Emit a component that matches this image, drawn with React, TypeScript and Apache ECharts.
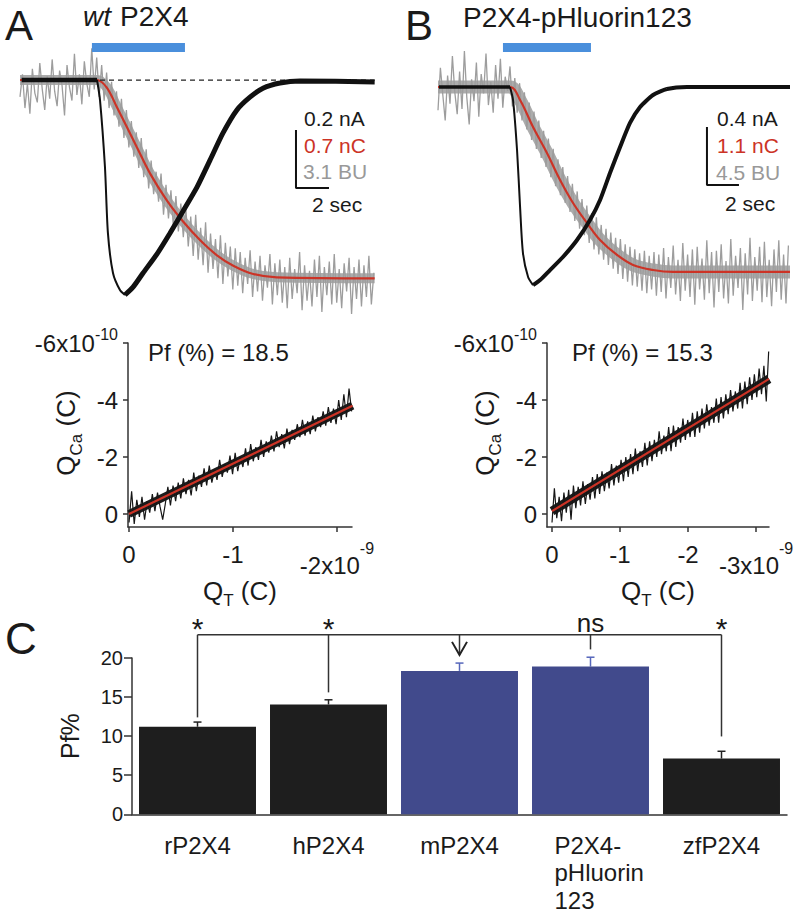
import React, { useEffect, useRef } from 'react';
import * as echarts from 'echarts';

const FONT = '"Liberation Sans", Arial, Helvetica, sans-serif';
const INK = '#1a1a1a';
const RED = '#cc3326';
const GREY = '#9d9d9d';
const BLUE_APP = '#4a8fdc';

// ---------- Panel A traces (time s, current nA, charge nC, fluorescence BU) ----------
const currentA: number[][] = [
  [0.1, 0], [4.67, 0], [4.85, -0.069], [5.15, -0.3], [5.33, -0.528], [5.64, -0.666], [6.06, -0.724],
  [6.36, -0.741], [6.85, -0.714], [7.45, -0.666], [8.3, -0.6], [9.09, -0.528], [9.88, -0.452],
  [10.73, -0.369], [11.52, -0.276], [12.3, -0.183], [13.15, -0.103], [13.94, -0.059], [14.73, -0.028],
  [15.76, -0.01], [16.97, -0.003], [21.5, -0.007],
];
const chargeA: number[][] = [
  [0, 0], [4.65, 0], [5.25, -0.088], [5.86, -0.322], [6.47, -0.564], [7.07, -0.805], [7.88, -1.127],
  [8.89, -1.449], [9.9, -1.711], [10.91, -1.931], [11.92, -2.112], [12.93, -2.241], [14.14, -2.341],
  [15.56, -2.381], [21.5, -2.393],
];
const fluoDt = 0.15;
const fluoA: number[] = [
  0.9, -0.3, 1.5, 0.2, 1.8, -0.6, 0.7, 1.2, -0.9, 0.5, 1.6, -0.2, 1.0, -1.1, 0.6, 1.4, -0.5, 0.3, 1.9, -0.8,
  0.4, 1.1, -1.4, 0.8, -0.3, 1.3, -1.0, 0.2, 0.9, -1.7, 0.5,
  -1.2, 0.9, -0.8, 1.1, -0.4, 1.5, 0.1, 1.9, 0.6, 2.5, 1.0, 3.1, 1.6, 3.6, 2.2, 4.1, 2.8,
  4.7, 3.1, 5.2, 3.7, 5.8, 4.3, 6.1, 4.9, 6.5, 5.0, 7.2, 5.6, 7.4, 5.9, 7.9, 6.2, 8.1, 6.6, 8.4,
  6.8, 8.9, 7.3, 9.4, 7.2, 9.6, 7.9, 9.9, 7.6, 10.3, 8.2, 10.1, 8.5, 10.6, 8.3, 10.9, 8.7, 10.5, 8.9, 11.2,
  9.0, 11.0, 9.2, 11.4, 9.5, 10.9, 9.1, 11.6, 9.7, 11.3, 9.4, 11.8, 9.9, 11.1, 9.3, 12.0, 9.8, 11.5, 9.6, 11.9,
  10.0, 12.2, 9.5, 11.7, 10.1, 11.4, 9.2, 12.3, 9.9, 11.8, 10.2, 12.1, 9.6, 11.6, 9.4, 12.4, 10.0, 11.5, 9.7, 12.0,
  9.3, 11.9, 10.1, 12.2, 9.8, 11.3, 9.5, 12.5, 10.0, 11.7, 9.6, 12.1, 9.9, 11.6, 9.4, 12.0, 10.3,
];
const appA = [4.36, 10.0];

// ---------- Panel B traces ----------
const currentB: number[][] = [
  [0.06, 0], [4.5, 0], [4.69, -0.09], [4.94, -0.434], [5.13, -0.828], [5.31, -1.145], [5.63, -1.31],
  [5.94, -1.366], [6.38, -1.331], [7.0, -1.262], [7.81, -1.172], [8.69, -1.055], [9.5, -0.917],
  [10.13, -0.779], [10.75, -0.593], [11.38, -0.414], [12.0, -0.248], [12.63, -0.138], [13.44, -0.055],
  [14.31, -0.014], [15.56, 0], [22, 0],
];
const chargeB: number[][] = [
  [0, 0], [4.5, 0], [5.13, -0.247], [5.94, -0.759], [6.81, -1.252], [7.63, -1.764], [8.44, -2.2],
  [9.31, -2.579], [10.13, -2.902], [11.19, -3.186], [12.19, -3.376], [13.44, -3.471], [14.69, -3.508],
  [22, -3.508],
];
const fluoB: number[] = [
  1.8, -1.5, 0.6, 2.6, -0.9, 1.3, -2.4, 0.4, 2.1, -1.2, 1.7, -2.8, 0.8, 2.9, -0.6, 1.1, -1.9, 2.3, -1.0, 0.5,
  -2.6, 1.4, -0.4, 2.0, -1.7, 0.9, -2.2, 1.6, -0.8, 0.3,
  -1.6, 1.5, -0.7, 2.0, -0.3, 2.6, 0.4, 3.3, 1.2, 4.1, 1.9, 4.8, 2.6, 5.5, 3.4, 6.2, 4.0, 7.0, 4.8, 7.7, 5.6,
  8.4, 6.2, 9.0, 6.9, 9.7, 7.5, 10.4, 8.1, 11.0, 8.7, 11.5, 9.2, 12.1, 9.8, 12.6, 10.1, 13.0, 10.7, 13.4, 11.0,
  13.8, 11.3, 14.1, 11.7,
  14.5, 11.8, 14.9, 12.2, 15.1, 12.4, 15.4, 12.6, 15.5, 12.9, 15.8, 12.7, 16.0, 13.1, 15.7, 12.8, 16.2, 13.0, 15.9, 12.5,
  16.4, 13.2, 15.6, 12.3, 16.1, 13.4, 16.6, 12.1, 15.8, 13.0, 16.3, 12.6, 16.9, 12.4, 15.7, 13.3, 16.5, 11.9, 16.0, 12.8,
  17.1, 12.7, 15.9, 12.2, 16.4, 13.5, 16.8, 11.8, 16.2, 13.1, 15.6, 12.5, 17.3, 12.9, 16.1, 11.7, 16.6, 13.2, 15.8, 12.4,
  16.7, 12.0, 16.3, 13.4, 17.0, 12.6, 15.9, 11.9, 16.5, 13.0, 16.8, 12.3,
];
const appB = [4.06, 9.56];

// scale bars: [time of vertical bar, top value (nA), amplitude nA, duration s]
const scaleA = [16.73, -0.172, 0.2, 2];
const scaleB = [16.81, -0.276, 0.4, 2];

// ---------- Q_Ca vs Q_T (x in 1e-9 C, y in 1e-10 C) ----------
const qtStepA = 0.0249;
const qcaA: number[] = [
  0.3, -0.8, 0.35, -0.5, 0.1, -0.6, 0.2, -0.45, -0.05, -0.7,
  -0.1, -0.75, -0.25, 0.2, -0.35, -0.95, -0.3, -1.0, -0.45, -1.1,
  -0.55, -1.25, -0.7, -1.2, -0.65, -1.45, -0.8, -1.35, -0.95, -1.6,
  -1.0, -1.7, -1.1, -1.55, -1.2, -1.9, -1.3, -1.75, -1.45, -2.05,
  -1.4, -2.15, -1.5, -2.0, -1.65, -2.3, -1.7, -2.45, -1.85, -2.35,
  -1.9, -2.6, -2.0, -2.55, -2.15, -2.75, -2.2, -2.9, -2.35, -2.8,
  -2.3, -3.0, -2.45, -2.95, -2.6, -3.15, -2.7, -3.3, -2.75, -3.25,
  -2.8, -3.45, -2.9, -3.4, -3.05, -3.6, -3.1, -3.75, -3.2, -3.7,
  -3.15, -4.0, -3.3, -4.2, -3.4, -4.4, -3.6,
];
const fitA = [[0, 0], [-2.15, -3.8]];
const qtStepB = 0.035;
const qcaB: number[] = [
  0.3, -0.9, 0.15, -0.6, 0.25, -0.75, -0.05, -0.85, 0.2, -1.0,
  -0.2, -0.95, -0.3, -1.15, -0.35, -1.05, -0.5, -1.3, -0.55, -1.4,
  -0.7, -1.5, -0.8, -1.45, -0.9, -1.75, -1.0, -1.7, -1.1, -1.9,
  -1.15, -2.0, -1.3, -2.1, -1.4, -2.3, -1.5, -2.2, -1.65, -2.5,
  -1.7, -2.55, -1.85, -2.6, -2.0, -2.9, -2.1, -2.75, -2.2, -3.05,
  -2.2, -3.1, -2.35, -3.05, -2.5, -3.35, -2.6, -3.3, -2.7, -3.55,
  -2.7, -3.6, -2.85, -3.7, -3.0, -3.85, -3.1, -3.75, -3.2, -4.05,
  -3.2, -4.1, -3.35, -4.2, -3.5, -4.35, -3.6, -4.3, -3.7, -4.6,
  -3.7, -4.65, -3.85, -4.8, -4.0, -4.9, -4.1, -5.1, -4.2, -5.2,
  -3.95, -5.7,
];
const fitB = [[0, -0.1], [-3.19, -4.74]];
const qtTicksA = [0, -1, -2];
const qtTicksB = [0, -1, -2, -3];
const qcaTicks = [0, -2, -4, -6];
const pfFitA = '18.5';
const pfFitB = '15.3';

// ---------- Panel C ----------
const pfCategories = ['rP2X4', 'hP2X4', 'mP2X4', 'P2X4-\npHluorin\n123', 'zfP2X4'];
const pfMean = [11.2, 14.05, 18.35, 18.9, 7.13];
const pfSem = [0.6, 0.6, 1.0, 1.2, 0.93];
const sigDrop = [12.4, 15.6, 20.4, 21.1, 9.96];
const sigLabels = ['*', '*', 'arrow', 'ns', '*'];
const bracketLevel = 22.97;
const barColors = ['#1e1e1e', '#1e1e1e', '#414a8c', '#414a8c', '#1e1e1e'];
const errColors = ['#222222', '#222222', '#5566bb', '#5566bb', '#222222'];

function txt(text: string, x: number, y: number, size: number, color = INK, style = 'normal', align = 'left') {
  return {
    type: 'text',
    silent: true,
    style: {
      text, x, y,
      font: `${style} ${size}px ${FONT}`,
      fill: color,
      textAlign: align, align,
      textVerticalAlign: 'middle', verticalAlign: 'middle',
    },
  };
}

// rotated axis title "Q_Ca (C)" drawn as rich text
function qcaTitle(x: number, y: number) {
  return {
    type: 'text', silent: true, x, y, rotation: Math.PI / 2,
    style: {
      text: '{q|Q}{s|Ca}{q| (C)}',
      x: 0, y: 0,
      textAlign: 'center', align: 'center', textVerticalAlign: 'middle', verticalAlign: 'middle',
      fill: INK,
      rich: {
        q: { fontSize: 26, lineHeight: 26, verticalAlign: 'top', fontFamily: FONT, fill: INK, color: INK },
        s: { fontSize: 17, lineHeight: 46, fontFamily: FONT, fill: INK, color: INK },
      },
    },
  };
}

const line = (data: any, xi: number, yi: number, color: string, width: number, extra: any = {}) => ({
  type: 'line', data, xAxisIndex: xi, yAxisIndex: yi, symbol: 'none', showSymbol: false, silent: true,
  lineStyle: { color, width, ...(extra.lineStyle || {}) }, smooth: extra.smooth ?? false,
  emphasis: { disabled: true },
});

const labelRich = {
  p: { fontSize: 24, lineHeight: 28, fontFamily: FONT, color: INK },
  b: { fontSize: 24, lineHeight: 50, fontFamily: FONT, color: INK },
  yb: { fontSize: 24, lineHeight: 34, fontFamily: FONT, color: INK },
  s: { fontSize: 16, lineHeight: 16, verticalAlign: 'top', fontFamily: FONT, color: INK },
};
const nameRich = {
  q: { fontSize: 26, lineHeight: 26, verticalAlign: 'top', fontFamily: FONT, color: INK },
  s: { fontSize: 17, lineHeight: 46, fontFamily: FONT, color: INK },
};
const axisLineStyle = { color: '#333', width: 1.5 };

function qtAxis(grid: number, min: number, max: number, ticks: number[]) {
  const last = ticks[ticks.length - 1];
  return {
    type: 'value', gridIndex: grid, min, max, inverse: true,
    axisLine: { show: true, onZero: false, lineStyle: axisLineStyle },
    axisTick: { show: true, length: 5, customValues: ticks, lineStyle: axisLineStyle },
    axisLabel: {
      customValues: ticks, margin: 13,
      formatter: (v: number) => (v === last ? `{b|${v}x10}{s|-9}` : `{p|${v}}`),
      rich: labelRich,
    },
    splitLine: { show: false },
    name: '{q|Q}{s|T}{q| (C)}', nameLocation: 'middle', nameGap: 43,
    nameTextStyle: { rich: nameRich },
  };
}
function qcaAxis(grid: number) {
  return {
    type: 'value', gridIndex: grid, min: -6, max: 0.456, inverse: true,
    axisLine: { show: true, onZero: false, lineStyle: axisLineStyle },
    axisTick: { show: true, length: 5, customValues: qcaTicks, lineStyle: axisLineStyle },
    axisLabel: {
      customValues: qcaTicks, margin: 10,
      formatter: (v: number) => (v === -6 ? '{yb|-6x10}{s|-10}' : `{p|${v}}`),
      rich: labelRich,
    },
    splitLine: { show: false },
  };
}

function traceSeries(xi: number, yC: number, yQ: number, yF: number, cur: number[][], chg: number[][], fl: number[],
  app: number[], sc: number[], appLevel: number, thick: number, dashed: boolean, core: number) {
  const s: any[] = [];
  // dense core of the noisy fluorescence trace (runs along the charge curve)
  s.push(line(chg, xi, yQ, '#acacac', core, { smooth: 0.35 }));
  s.push(line(fl.map((v, i) => [i * fluoDt, v]), xi, yF, GREY, 1.3));
  s.push(line(chg, xi, yQ, RED, 2.2, { smooth: 0.35 }));
  if (dashed) s.push(line([[cur[1][0] + 0.18, 0], [cur[cur.length - 1][0], 0]], xi, yC, '#222', 1.3, { lineStyle: { type: [5, 4] } }));
  s.push(line(cur.slice(0, 2), xi, yC, '#111', thick));
  s.push(line(cur.slice(1, 8), xi, yC, '#111', 2, { smooth: 0.25 }));
  s.push(line(cur.slice(7), xi, yC, '#111', thick + 0.5, { smooth: 0.2 }));
  s.push(line([[app[0], appLevel], [app[1], appLevel]], xi, yC, BLUE_APP, 9));
  s.push(line([[sc[0], sc[1]], [sc[0], sc[1] - sc[2]], [sc[0] + sc[3], sc[1] - sc[2]]], xi, yC, '#111', 2));
  return s;
}

export default function App() {
  const ref = useRef<HTMLDivElement>(null);
  useEffect(() => {
    document.body.style.margin = '0';
    const chart = echarts.init(ref.current as HTMLDivElement, null, { renderer: 'svg', width: 800, height: 912 });
    const hiddenX = (g: number, max: number) => ({ type: 'value', gridIndex: g, min: 0, max, show: false });
    const hiddenY = (g: number, min: number, max: number, inverse = false) => ({ type: 'value', gridIndex: g, min, max, inverse, show: false });

    const option: any = {
      animation: false,
      textStyle: { fontFamily: FONT },
      grid: [
        { left: 20, top: 40, width: 355, height: 275 },
        { left: 438, top: 40, width: 352, height: 275 },
        { left: 128, top: 343, width: 224, height: 184 },
        { left: 547, top: 343, width: 222, height: 184 },
        { left: 132, top: 658, width: 655, height: 157 },
      ],
      xAxis: [
        hiddenX(0, 21.52),
        hiddenX(1, 22),
        qtAxis(2, -2.145, 0.01, qtTicksA),
        qtAxis(3, -3.19, 0.0735, qtTicksB),
        {
          type: 'category', gridIndex: 4, data: pfCategories,
          axisLine: { show: true, lineStyle: axisLineStyle },
          axisTick: { show: false },
          axisLabel: {
            interval: 0, margin: 17,
            formatter: (v: string) => v.includes('\n')
              ? v.split('\n').map((s) => `{l|${s}}`).join('\n')
              : `{c|${v}}`,
            rich: {
              c: { fontSize: 24, lineHeight: 27.5, fontFamily: FONT, color: INK },
              l: { fontSize: 24, lineHeight: 27.5, fontFamily: FONT, color: INK, width: 90, align: 'left', padding: [0, 0, 0, 18] },
            },
          },
        },
      ],
      yAxis: [
        hiddenY(0, -0.81, 0.138),
        hiddenY(0, -2.836, 0.483),
        hiddenY(0, -2.138, 12.56, true),
        hiddenY(1, -1.572, 0.324),
        hiddenY(1, -4.324, 0.891),
        hiddenY(1, -3.65, 17.69, true),
        qcaAxis(2),
        qcaAxis(3),
        {
          type: 'value', gridIndex: 4, min: 0, max: 20, interval: 5,
          axisLine: { show: true, lineStyle: axisLineStyle },
          axisTick: { show: true, length: 8, lineStyle: axisLineStyle },
          axisLabel: { fontSize: 20, color: INK, margin: 9, fontFamily: FONT },
          splitLine: { show: false },
          name: 'Pf%', nameLocation: 'middle', nameRotate: 90, nameGap: 50,
          nameTextStyle: { fontSize: 25, lineHeight: 25, color: INK, fontFamily: FONT },
        },
      ],
      series: [
        ...traceSeries(0, 0, 1, 2, currentA, chargeA, fluoA, appA, scaleA, 0.112, 4.5, true, 10),
        ...traceSeries(1, 3, 4, 5, currentB, chargeB, fluoB, appB, scaleB, 0.272, 3.5, false, 13),
        line(fitA, 2, 6, '#1c1c1c', 8),
        line(qcaA.map((v, i) => [-i * qtStepA, v]), 2, 6, '#161616', 1.2),
        line(fitA, 2, 6, RED, 2.2),
        line(fitB, 3, 7, '#1c1c1c', 9),
        line(qcaB.map((v, i) => [-i * qtStepB, v]), 3, 7, '#161616', 1.2),
        line(fitB, 3, 7, RED, 2.2),
        {
          type: 'bar', xAxisIndex: 4, yAxisIndex: 8, barCategoryGap: '10.7%', silent: true,
          data: pfMean.map((v, i) => ({ value: v, itemStyle: { color: barColors[i] } })),
          emphasis: { disabled: true },
        },
        {
          type: 'custom', xAxisIndex: 4, yAxisIndex: 8, silent: true, clip: false,
          data: pfMean.map((v, i) => [i, v, pfSem[i]]),
          renderItem: (params: any, api: any) => {
            const i = params.dataIndex;
            const base = api.coord([api.value(0), api.value(1)]);
            const top = api.coord([api.value(0), api.value(1) + api.value(2)]);
            const st = { stroke: errColors[i], lineWidth: 1.5 };
            return {
              type: 'group',
              children: [
                { type: 'line', shape: { x1: base[0], y1: base[1], x2: top[0], y2: top[1] }, style: st },
                { type: 'line', shape: { x1: top[0] - 4, y1: top[1], x2: top[0] + 4, y2: top[1] }, style: st },
              ],
            };
          },
        },
        {
          type: 'custom', xAxisIndex: 4, yAxisIndex: 8, silent: true, clip: false,
          data: sigDrop.map((d, i) => [i, d]),
          renderItem: (params: any, api: any) => {
            const i = params.dataIndex;
            const tip = api.coord([api.value(0), api.value(1)]);
            const top = api.coord([api.value(0), bracketLevel]);
            const st = { stroke: '#333', lineWidth: 1.5 };
            const kids: any[] = [
              { type: 'line', shape: { x1: tip[0], y1: top[1], x2: tip[0], y2: tip[1] }, style: st },
            ];
            if (i === 0) {
              const end = api.coord([pfCategories.length - 1, bracketLevel]);
              kids.push({ type: 'line', shape: { x1: top[0], y1: top[1], x2: end[0], y2: end[1] }, style: st });
            }
            const lab = sigLabels[i];
            if (lab === 'arrow') {
              kids.push({
                type: 'polyline',
                shape: { points: [[tip[0] - 7.5, tip[1] - 13], [tip[0], tip[1]], [tip[0] + 7.5, tip[1] - 13]] },
                style: { stroke: '#222', lineWidth: 2, fill: null },
              });
            } else {
              const isNs = lab === 'ns';
              kids.push({
                type: 'text',
                style: {
                  text: lab, x: tip[0], y: isNs ? top[1] - 12 : top[1] - 6,
                  font: `normal ${isNs ? 26 : 30}px ${FONT}`, fill: INK,
                  textAlign: 'center', align: 'center', textVerticalAlign: 'middle', verticalAlign: 'middle',
                },
              });
            }
            return { type: 'group', children: kids };
          },
        },
      ],
      graphic: [
        txt('A', 5, 25, 42),
        txt('wt', 83, 16, 28, INK, 'italic'),
        txt('P2X4', 120, 16, 28),
        txt('B', 405, 25, 42),
        txt('P2X4-pHluorin123', 463, 17, 28),
        txt('0.2 nA', 304, 118, 21),
        txt('0.7 nC', 304, 145, 21, RED),
        txt('3.1 BU', 303, 171, 21, '#999999'),
        txt('2 sec', 312, 204, 21),
        txt('0.4 nA', 717, 118, 21),
        txt('1.1 nC', 717, 145, 21, RED),
        txt('4.5 BU', 716, 172, 21, '#999999'),
        txt('2 sec', 725, 203, 21),
        txt(`Pf (%) = ${pfFitA}`, 148, 352, 24),
        txt(`Pf (%) = ${pfFitB}`, 572, 352, 24),
        qcaTitle(76, 433),
        qcaTitle(495, 433),
        txt('C', 5, 638, 44),
      ],
    };
    chart.setOption(option);
    return () => chart.dispose();
  }, []);
  return <div ref={ref} style={{ width: 800, height: 912 }} />;
}
